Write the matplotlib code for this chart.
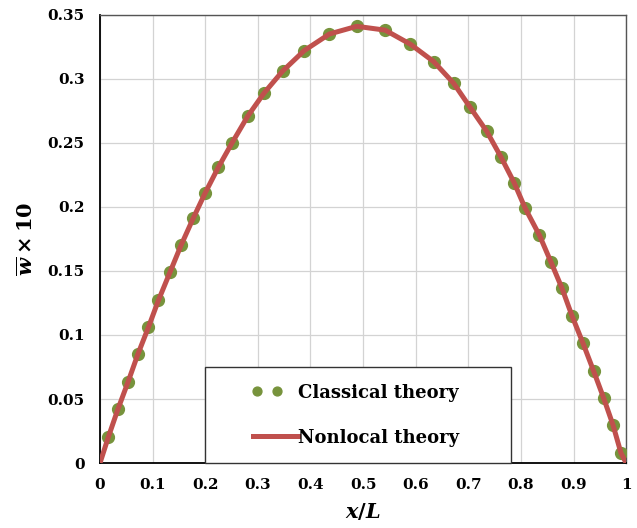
import matplotlib
matplotlib.use("Agg")
import matplotlib.pyplot as plt
from matplotlib.patches import Rectangle
from matplotlib.legend_handler import HandlerLine2D
import numpy as np

# classical theory points
x_cls = [0.016, 0.034, 0.053, 0.072, 0.092, 0.111, 0.133, 0.154, 0.177, 0.200,
         0.225, 0.251, 0.281, 0.312, 0.347, 0.388, 0.436, 0.488, 0.542, 0.590,
         0.634, 0.672, 0.703, 0.735, 0.762, 0.787, 0.808, 0.835, 0.857, 0.878,
         0.897, 0.918, 0.938, 0.957, 0.975, 0.990]
w_cls = [0.0205, 0.042, 0.063, 0.085, 0.106, 0.127, 0.149, 0.170, 0.191, 0.211,
         0.231, 0.250, 0.271, 0.289, 0.306, 0.322, 0.335, 0.341, 0.338, 0.327,
         0.3135, 0.2966, 0.278, 0.259, 0.239, 0.219, 0.199, 0.178, 0.157, 0.1365,
         0.115, 0.0935, 0.072, 0.051, 0.0297, 0.008]

# nonlocal theory curve
x_nl = [0.0] + x_cls + [1.0]
w_nl = [0.0] + w_cls + [0.0]

xticks = [0, 0.1, 0.2, 0.3, 0.4, 0.5, 0.6, 0.7, 0.8, 0.9, 1]
xtick_labels = ["0", "0.1", "0.2", "0.3", "0.4", "0.5", "0.6", "0.7", "0.8", "0.9", "1"]
yticks = [0, 0.05, 0.1, 0.15, 0.2, 0.25, 0.3, 0.35]
ytick_labels = ["0", "0.05", "0.1", "0.15", "0.2", "0.25", "0.3", "0.35"]


class DotsHandler(HandlerLine2D):
    # two dots sitting in the left half of the handle, like Excel does it
    def get_xdata(self, legend, xdescent, ydescent, width, height, fontsize):
        xd = np.array([0.09, 0.53]) * width - xdescent
        return xd, xd


plt.rcParams["font.family"] = "DejaVu Serif"
plt.rcParams["font.weight"] = "bold"
plt.rcParams["mathtext.fontset"] = "custom"
plt.rcParams["mathtext.it"] = "DejaVu Serif:bold:italic"
plt.rcParams["mathtext.rm"] = "DejaVu Serif:bold"
plt.rcParams["mathtext.bf"] = "DejaVu Serif:bold"

fig = plt.figure(figsize=(6.37, 5.28), dpi=100)
ax = fig.add_axes([0.157, 0.123, 0.826, 0.849])

pts, = ax.plot(x_cls, w_cls, "o", color="#77933C", markersize=8.5, label="Classical theory", zorder=3)
ln, = ax.plot(x_nl, w_nl, "-", color="#C0504D", linewidth=3.6, label="Nonlocal theory", zorder=4)

ax.set_xlim(0, 1)
ax.set_ylim(0, 0.35)
ax.set_xticks(xticks)
ax.set_xticklabels(xtick_labels)
ax.set_yticks(yticks)
ax.set_yticklabels(ytick_labels)
ax.tick_params(length=0, labelsize=11, pad=11)
for lbl in ax.get_xticklabels() + ax.get_yticklabels():
    lbl.set_fontweight("bold")

ax.grid(True, color="#d3d3d3", linewidth=0.9)
ax.set_axisbelow(True)
for side in ["top", "right"]:
    ax.spines[side].set_color("#555555")
    ax.spines[side].set_linewidth(1.0)
for side in ["left", "bottom"]:
    ax.spines[side].set_color("black")
    ax.spines[side].set_linewidth(1.3)

ax.set_xlabel(r"$x/L$", fontsize=15, labelpad=6)
ax.set_ylabel(r"$\overline{w}\times 10$", fontsize=15, labelpad=8)

# legend box drawn separately, entries placed inside it
box = Rectangle((0.2, 0.0), 0.582, 0.214, transform=ax.transAxes, facecolor="white",
                edgecolor="#333333", linewidth=1.0, zorder=5, clip_on=False)
ax.add_patch(box)
leg = ax.legend([pts, ln], ["Classical theory", "Nonlocal theory"],
                handler_map={pts: DotsHandler(numpoints=2)},
                loc="center left", bbox_to_anchor=(0.291, 0.107),
                markerscale=0.75, frameon=False,
                prop={"family": "DejaVu Serif", "weight": "bold", "size": 13},
                handlelength=2.5, handletextpad=0.0, labelspacing=1.5,
                borderpad=0.0, borderaxespad=0)
leg.set_zorder(6)
for t in leg.get_texts():
    t.set_fontweight("bold")

fig.savefig("out.png", dpi=100)
